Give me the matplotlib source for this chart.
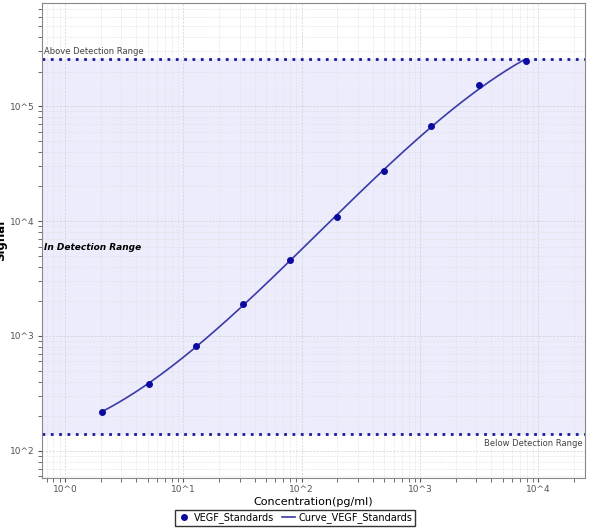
import numpy as np
import matplotlib
matplotlib.use("Agg")
import matplotlib.pyplot as plt
from matplotlib.ticker import FixedLocator, LogLocator, NullFormatter

conc = [2.048, 5.12, 12.8, 32, 80, 200, 500, 1250, 3125, 7812.5]
signal = [218, 383, 818, 1900, 4580, 10800, 27200, 67000, 152000, 246000]
upper_limit = 256000
lower_limit = 140
xticks = [1, 10, 100, 1000, 10000]
xlabels = ["10^0", "10^1", "10^2", "10^3", "10^4"]
yticks = [100, 1000, 10000, 100000]
ylabels = ["10^2", "10^3", "10^4", "10^5"]

fig = plt.figure(figsize=(5.9, 5.32), dpi=100)
ax = fig.add_axes([42/590, 1-478/532, (585-42)/590, (478-3)/532])
ax.set_xscale("log"); ax.set_yscale("log")
ax.set_xlim(0.64, 24800); ax.set_ylim(58, 7.9e5)

ax.axhspan(lower_limit, upper_limit, color="#ececfc", zorder=0)
ax.axhline(upper_limit, color="#1a1a9a", ls=(0, (1, 2)), lw=2, zorder=2)
ax.axhline(lower_limit, color="#1a1a9a", ls=(0, (1, 2)), lw=2, zorder=2)

lx, ly = np.log10(conc), np.log10(signal)
p = np.polyfit(lx, ly, 3)
xs = np.linspace(lx[0], lx[-1], 200)
ax.plot(10**xs, 10**np.polyval(p, xs), color="#3a3aa8", lw=1.2, zorder=3, label="Curve_VEGF_Standards")
ax.plot(conc, signal, "o", color="#0a0aa0", ms=4, zorder=4, label="VEGF_Standards")

ax.xaxis.set_major_locator(FixedLocator(xticks)); ax.set_xticklabels(xlabels)
ax.yaxis.set_major_locator(FixedLocator(yticks)); ax.set_yticklabels(ylabels)
for a in (ax.xaxis, ax.yaxis):
    a.set_minor_locator(LogLocator(subs=np.arange(2, 10)))
    a.set_minor_formatter(NullFormatter())
ax.tick_params(labelsize=6.5, colors="#555555", length=3, pad=2, which="both")
ax.grid(True, which="major", color="#cfcfcf", ls=(0, (3, 2)), lw=0.5)
ax.grid(True, which="minor", color="#dedede", ls=(0, (3, 2)), lw=0.4)
ax.set_axisbelow(True)
for s in ax.spines.values():
    s.set_color("#888888")

ax.text(0.67, upper_limit*1.12, "Above Detection Range", fontsize=6, color="#444444")
ax.text(23500, lower_limit*0.9, "Below Detection Range", fontsize=6, color="#444444", ha="right", va="top")
ax.text(0.67, 5900, "In Detection Range", fontsize=6.5, style="italic", weight="bold", va="center")

ax.set_xlabel("Concentration(pg/ml)", fontsize=8, labelpad=2)
ax.set_ylabel("Signal", fontsize=8.5, weight="bold", labelpad=2)

h, l = ax.get_legend_handles_labels()
fig.legend(h[::-1], l[::-1], loc="center", bbox_to_anchor=(0.5, 1-518/532), ncol=2, fontsize=7,
           frameon=True, edgecolor="black", fancybox=False, handlelength=1.3, columnspacing=0.8,
           handletextpad=0.4, borderpad=0.3)
fig.savefig("out.png", dpi=100)
